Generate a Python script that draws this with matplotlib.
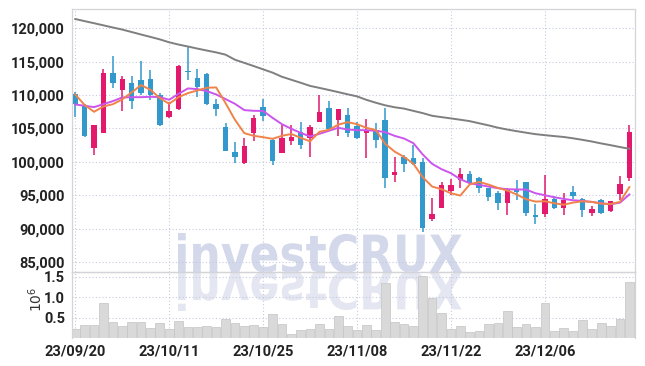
import matplotlib
matplotlib.use("Agg")
import matplotlib.pyplot as plt
import numpy as np
from matplotlib.font_manager import FontProperties
from matplotlib.patches import PathPatch
from matplotlib.textpath import TextPath
from matplotlib.transforms import Affine2D, IdentityTransform

# Trading days, 2023-09-20 .. 2023-12-19
dates = ["23/09/20", "23/09/21", "23/09/22", "23/09/25", "23/09/26", "23/09/27",
         "23/10/04", "23/10/05", "23/10/06", "23/10/10", "23/10/11", "23/10/12",
         "23/10/13", "23/10/16", "23/10/17", "23/10/18", "23/10/19", "23/10/20",
         "23/10/23", "23/10/24", "23/10/25", "23/10/26", "23/10/27", "23/10/30",
         "23/10/31", "23/11/01", "23/11/02", "23/11/03", "23/11/06", "23/11/07",
         "23/11/08", "23/11/09", "23/11/10", "23/11/13", "23/11/14", "23/11/15",
         "23/11/16", "23/11/17", "23/11/20", "23/11/21", "23/11/22", "23/11/23",
         "23/11/24", "23/11/27", "23/11/28", "23/11/29", "23/11/30", "23/12/01",
         "23/12/04", "23/12/05", "23/12/06", "23/12/07", "23/12/08", "23/12/11",
         "23/12/12", "23/12/13", "23/12/14", "23/12/15", "23/12/18", "23/12/19"]
date_labels = ["23/09/20", "23/10/11", "23/10/25", "23/11/08", "23/11/22", "23/12/06"]

opens = [110170, 108540, 102030, 104320, 113320, 110830, 111800, 112200, 112460, 110060,
         106710, 107880, 113600, 112560, 113120, 108640, 105200, 101420, 99800, 104340,
         108230, 103230, 101360, 103080, 104450, 103540, 106010, 108130, 106310, 107020,
         105330, 104320, 104820, 106230, 98040, 100800, 100650, 100050, 91510, 93120,
         95600, 97290, 98190, 97640, 96030, 95350, 93850, 95850, 96950, 92100,
         92200, 94500, 93100, 95450, 94500, 92350, 94350, 92600, 95250, 97600]
highs = [110420, 108640, 105590, 113930, 115860, 112810, 112810, 115100, 113730, 110270,
         108900, 114440, 117190, 113980, 113320, 109390, 105860, 102930, 103590, 107020,
         109390, 103480, 105450, 105450, 105960, 105450, 110000, 109140, 107880, 108130,
         105980, 106480, 105830, 108090, 100800, 101050, 102560, 100650, 94520, 97040,
         97440, 99050, 98640, 97790, 96130, 95600, 96100, 97350, 97050, 93700,
         98100, 94850, 95350, 96350, 94600, 93350, 94450, 94200, 97850, 105450]
lows = [106710, 103700, 101010, 104320, 111080, 107620, 107880, 110000, 109250, 105330,
        106500, 107780, 112200, 109760, 108550, 106870, 101570, 99800, 99700, 103080,
        106110, 99550, 101260, 102580, 101920, 100660, 105910, 104700, 103840, 103690,
        103470, 100650, 102060, 96130, 97040, 98540, 99550, 89500, 91160, 93020,
        95030, 96130, 96680, 95380, 94120, 92850, 92100, 94350, 91850, 90700,
        91700, 93000, 92100, 94500, 91700, 91950, 92250, 92500, 94350, 97100]
closes = [108740, 103860, 105490, 113320, 111800, 112350, 109050, 110270, 110010, 105590,
          107620, 114340, 113500, 111190, 108650, 107880, 101670, 100710, 102320, 106570,
          106870, 100200, 103540, 103690, 102530, 105200, 107470, 104850, 107880, 104340,
          103570, 104820, 103220, 97540, 98540, 99650, 99650, 90150, 92260, 96530,
          96600, 98190, 96780, 96130, 94770, 93850, 96000, 95500, 92350, 91750,
          94500, 93100, 94350, 94850, 92850, 92950, 92350, 94100, 96750, 104450]

ma5 = [110100, 108500, 107500, 108300, 108640, 109360, 110400, 111500, 110800, 109550,
       108700, 109700, 110300, 110700, 111100, 111150, 108800, 106300, 104300, 103900,
       103700, 103450, 103900, 104180, 103600, 103080, 104500, 104800, 105570, 105950,
       105650, 105100, 104770, 102700, 101540, 100750, 99720, 97700, 96300, 95900,
       95300, 94950, 96620, 97000, 96600, 96100, 95700, 95120, 94400, 94050,
       94100, 93800, 93580, 93900, 94100, 94000, 93750, 93680, 94000, 96220]
ma20 = [108600, 108400, 108200, 108650, 109100, 109650, 109690, 109690, 109750, 109700,
        109300, 110200, 111000, 110900, 110600, 110100, 109400, 108700, 107750, 107650,
        107630, 106600, 105650, 104950, 104350, 103800, 104200, 104650, 105100, 104850,
        104750, 104750, 104650, 104450, 103900, 103500, 102800, 101100, 99700, 98900,
        98300, 97400, 96800, 96550, 96300, 96050, 95900, 95870, 95850, 95300,
        95000, 94700, 94450, 94250, 94150, 94000, 93800, 93650, 93880, 95120]
ma60 = [121400, 121080, 120770, 120450, 120130, 119820, 119450, 119080, 118720, 118350,
        117910, 117570, 117280, 116970, 116680, 116400, 116060, 115300, 114830, 114350,
        113860, 113370, 112750, 112300, 111850, 111380, 111080, 110770, 110450, 110120,
        109810, 109290, 108860, 108470, 108180, 107980, 107640, 107300, 106900, 106700,
        106510, 106310, 106100, 105780, 105470, 105120, 104840, 104600, 104370, 104150,
        104000, 103860, 103730, 103530, 103300, 103050, 102760, 102500, 102220, 101960]

volume = [0.21, 0.31, 0.31, 0.85, 0.39, 0.29, 0.39, 0.39, 0.24, 0.36,
          0.21, 0.42, 0.26, 0.26, 0.29, 0.26, 0.47, 0.36, 0.29, 0.31,
          0.26, 0.59, 0.34, 0.11, 0.19, 0.21, 0.34, 0.21, 0.54, 0.29,
          0.19, 0.31, 0.19, 1.36, 0.39, 0.34, 0.29, 1.51, 0.97, 0.62,
          0.21, 0.29, 0.14, 0.17, 0.34, 0.36, 0.67, 0.26, 0.34, 0.26,
          0.85, 0.17, 0.24, 0.17, 0.44, 0.21, 0.36, 0.29, 0.47, 1.38]

UP = "#e2196c"
DOWN = "#3399cc"
GRID = "#c6cadf"
FONT = ["Liberation Sans Narrow", "Roboto", "DejaVu Sans"]

W, H = 645, 366
fig = plt.figure(figsize=(W / 100, H / 100), dpi=100)
ax = fig.add_axes([72 / W, 1 - 272 / H, 563 / W, 263 / H])
axv = fig.add_axes([72 / W, 1 - 338 / H, 563 / W, 66 / H], sharex=ax)
for a in (ax, axv):
    a.set_facecolor("none")
    for s in a.spines.values():
        s.set_color("#d4d4d8")
        s.set_linewidth(0.9)
    a.grid(True, color=GRID, linestyle=(0, (1, 2)), linewidth=0.8)
    a.set_axisbelow(True)
    a.tick_params(length=0, pad=5, labelcolor="#222222")
axv.spines["bottom"].set_visible(False)

x = np.arange(len(dates))
o, h, l, c = map(np.array, (opens, highs, lows, closes))
col = np.where(c >= o, UP, DOWN)

# watermark with mirror image, drawn behind everything (pixel coords)
tp = TextPath((0, 0), "investCRUX", size=100,
              prop=FontProperties(family="DejaVu Sans", weight="bold"))
bb = tp.get_extents()
sx = (462 - 178) / bb.width
sy = (272 - 233) / (bb.height + bb.y0)
base = H - 272
wm = Affine2D().translate(-bb.x0, 0).scale(sx, sy).translate(178, base)
fig.patches.append(PathPatch(tp, transform=wm + IdentityTransform(),
                             color="#d3d8ea", lw=0, zorder=-2))
wm_r = Affine2D().translate(-bb.x0, 0).scale(sx, -sy).translate(178, base)
fig.patches.append(PathPatch(tp, transform=wm_r + IdentityTransform(),
                             color="#e4e7f1", lw=0, zorder=-2))

# candles
ax.vlines(x, l, h, colors=col, linewidth=1.1, zorder=3)
body = np.maximum(np.abs(c - o), 120)
ax.bar(x, body, bottom=np.minimum(o, c), width=0.58, color=col, zorder=4)

ax.plot(x, ma60, color="#7f7f7f", lw=1.4, zorder=5)
ax.plot(x, ma20, color="#cc55ee", lw=1.4, zorder=5)
ax.plot(x, ma5, color="#f0834a", lw=1.4, zorder=5)

ax.set_ylim(83500, 122900)
ax.set_yticks(range(85000, 120001, 5000))
ax.set_yticklabels([f"{v:,}" for v in range(85000, 120001, 5000)])
ax.tick_params(axis="x", labelbottom=False)

axv.bar(x, volume, width=0.92, color="#d9d9d9", edgecolor="#c4c4c4",
        linewidth=0.5, zorder=2)
axv.set_ylim(0, 1.62)
axv.set_yticks([0.5, 1.0, 1.5])
axv.set_yticklabels(["0.5", "1.0", "1.5"])
axv.set_xlim(-0.35, len(dates) - 0.4)
axv.set_xticks([dates.index(d) for d in date_labels])
axv.set_xticklabels(date_labels)
axv.text(-0.064, 0.58, r"$10^6$", transform=axv.transAxes, rotation=90,
         ha="center", va="center", fontsize=10, color="#333333")

for a in (ax, axv):
    for t in a.get_xticklabels() + a.get_yticklabels():
        t.set_fontfamily(FONT)
        t.set_fontweight("bold")
        t.set_fontsize(10.5)

fig.savefig("out.png", dpi=100)
